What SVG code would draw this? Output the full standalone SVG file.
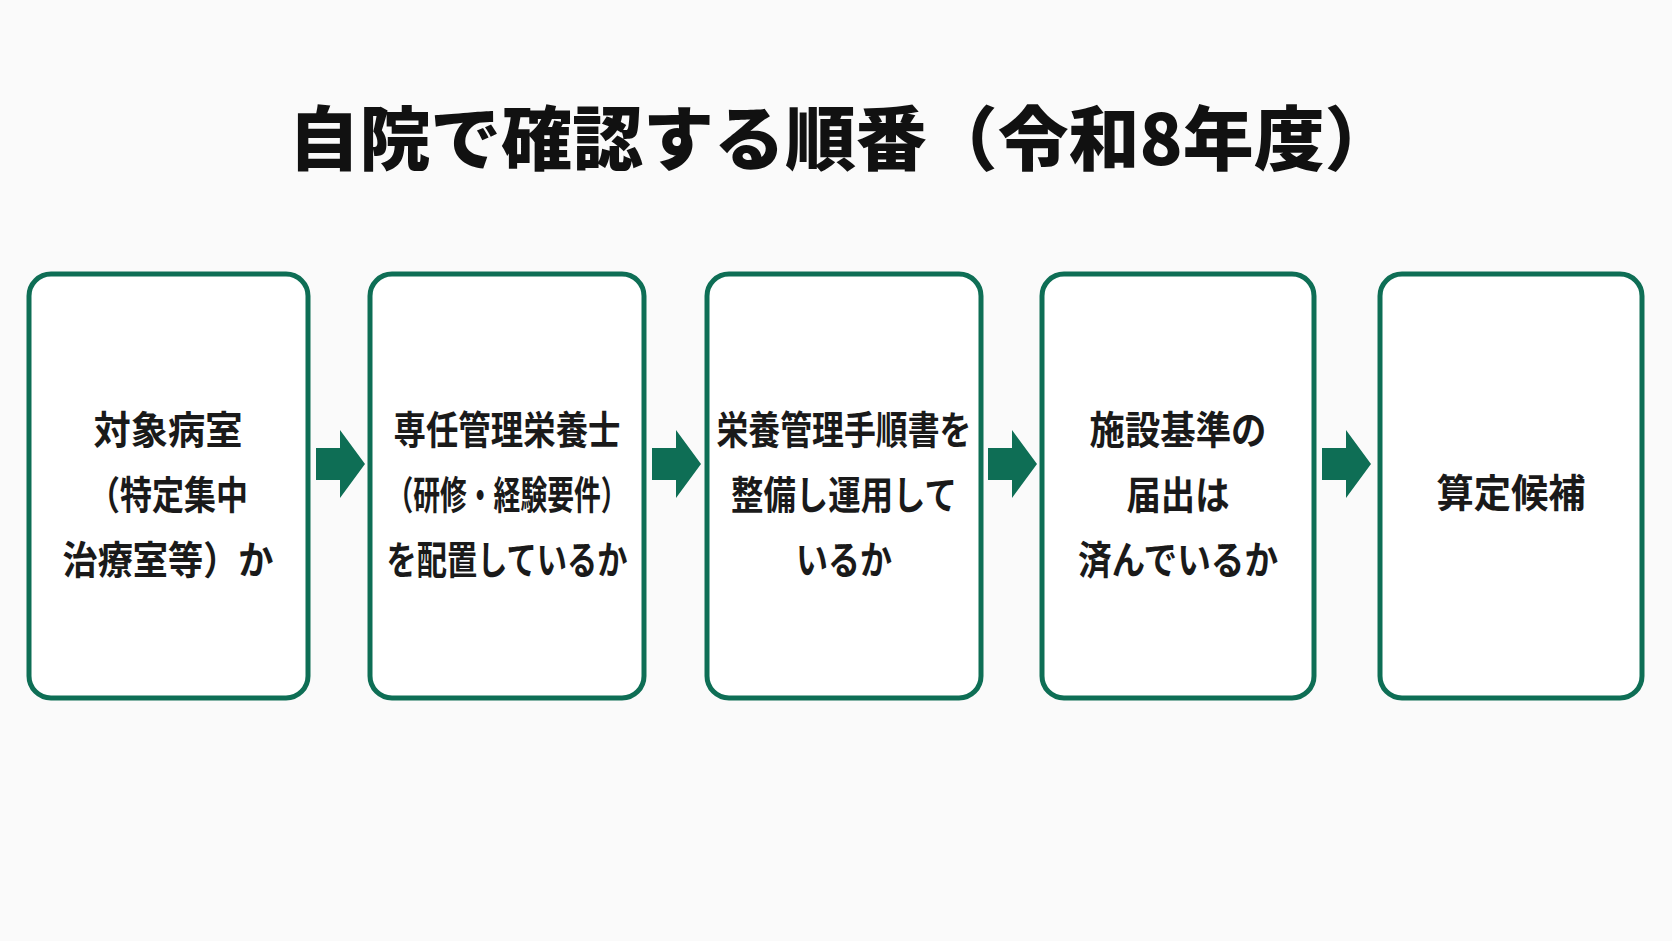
<svg xmlns="http://www.w3.org/2000/svg" width="1672" height="941" viewBox="0 0 1672 941">
<style>
.b{fill:#fff;stroke:#0e6e55;stroke-width:5}
.t{font-family:"Noto Sans CJK JP",sans-serif;font-weight:bold;font-size:39px;fill:#1a1a1a;text-anchor:middle;dominant-baseline:central}
.a{fill:#0e6e55}
</style>
<rect width="1672" height="941" fill="#fafafa"/>
<text x="842" y="134" font-family="Noto Sans CJK JP,sans-serif" font-weight="900" font-size="70" fill="#111" text-anchor="middle" dominant-baseline="central" textLength="1107" lengthAdjust="spacingAndGlyphs">自院で確認する順番（令和8年度）</text>
<g id="n1"><rect class="b" x="29" y="274" width="279" height="424" rx="22"/>
<text class="t" x="168" y="427" textLength="149" lengthAdjust="spacingAndGlyphs">対象病室</text><text class="t" x="168" y="492" textLength="160" lengthAdjust="spacingAndGlyphs">（特定集中</text><text class="t" x="168" y="557" textLength="211" lengthAdjust="spacingAndGlyphs">治療室等）か</text></g>
<g id="n2"><rect class="b" x="370" y="274" width="274" height="424" rx="22"/>
<text class="t" x="507" y="427" textLength="227" lengthAdjust="spacingAndGlyphs">専任管理栄養士</text><text class="t" x="507" y="492" textLength="241" lengthAdjust="spacingAndGlyphs">（研修・経験要件）</text><text class="t" x="507" y="557" textLength="241" lengthAdjust="spacingAndGlyphs">を配置しているか</text></g>
<g id="n3"><rect class="b" x="707" y="274" width="274" height="424" rx="22"/>
<text class="t" x="844" y="427" textLength="255" lengthAdjust="spacingAndGlyphs">栄養管理手順書を</text><text class="t" x="844" y="492" textLength="226" lengthAdjust="spacingAndGlyphs">整備し運用して</text><text class="t" x="844" y="557" textLength="96" lengthAdjust="spacingAndGlyphs">いるか</text></g>
<g id="n4"><rect class="b" x="1042" y="274" width="272" height="424" rx="22"/>
<text class="t" x="1178" y="427" textLength="177" lengthAdjust="spacingAndGlyphs">施設基準の</text><text class="t" x="1178" y="492" textLength="103" lengthAdjust="spacingAndGlyphs">届出は</text><text class="t" x="1178" y="557" textLength="200" lengthAdjust="spacingAndGlyphs">済んでいるか</text></g>
<g id="n5"><rect class="b" x="1380" y="274" width="262" height="424" rx="22"/>
<text class="t" x="1511" y="490" textLength="149" lengthAdjust="spacingAndGlyphs">算定候補</text></g>
<g id="connectors">
<polygon class="a" points="316,448 340,448 340,430 365,464 340,498 340,480 316,480"/>
<polygon class="a" points="652,448 676,448 676,430 701,464 676,498 676,480 652,480"/>
<polygon class="a" points="988,448 1012,448 1012,430 1037,464 1012,498 1012,480 988,480"/>
<polygon class="a" points="1322,448 1346,448 1346,430 1371,464 1346,498 1346,480 1322,480"/>
</g>
</svg>
